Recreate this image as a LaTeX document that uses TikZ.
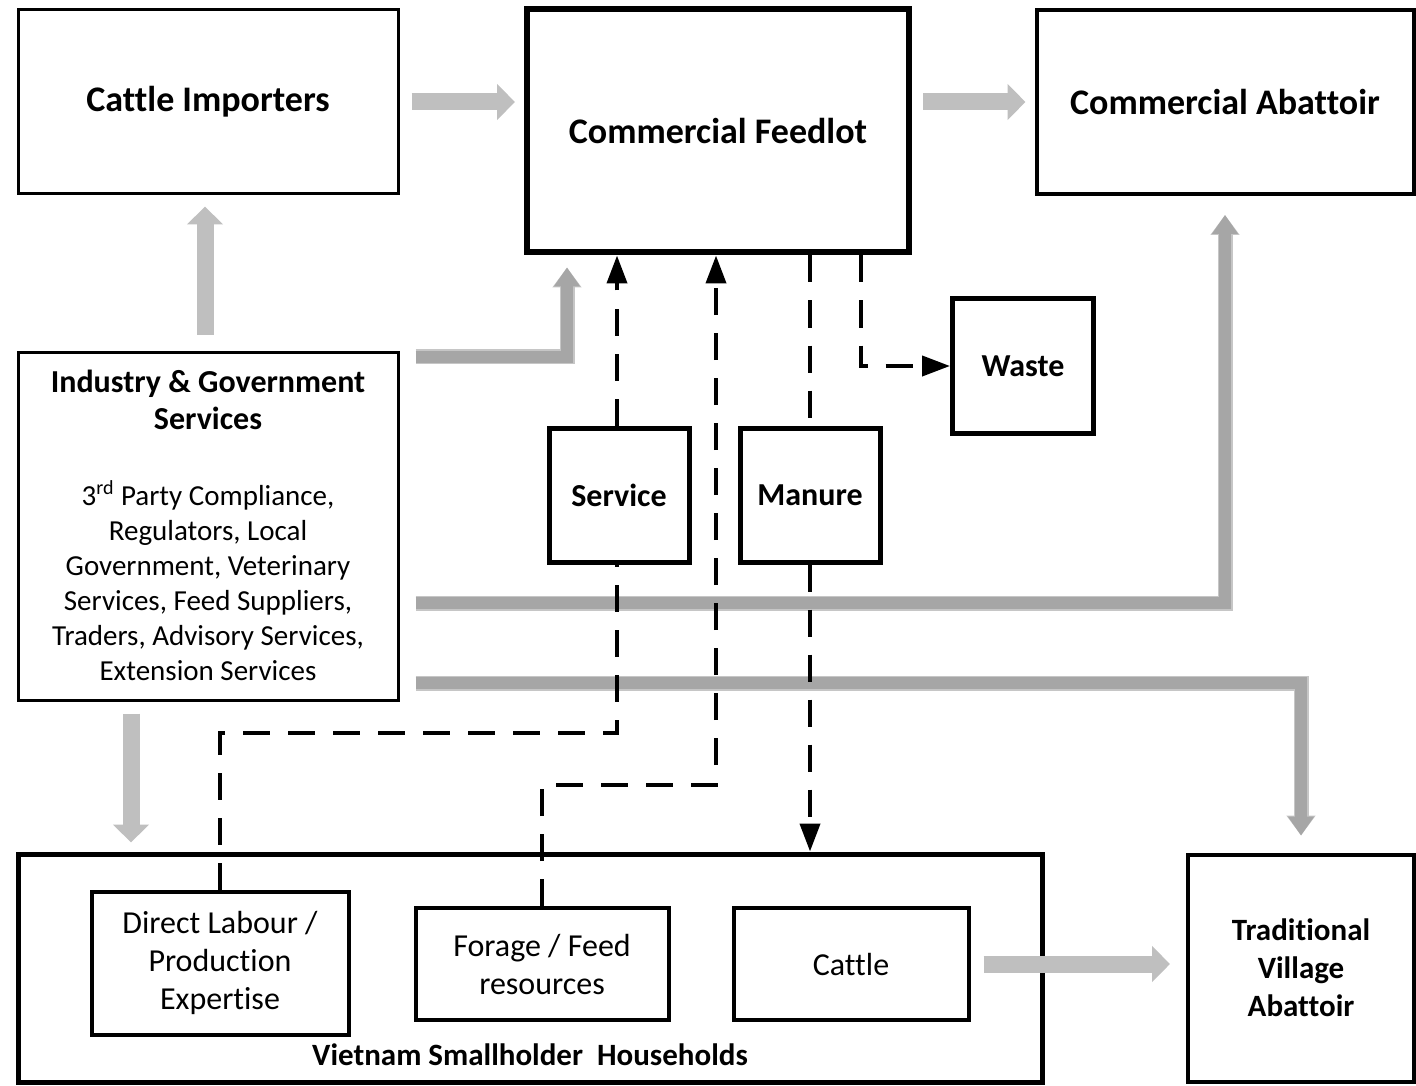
\documentclass[tikz,border=0pt]{standalone}
\usepackage{fontspec}
\setmainfont{Carlito}[Ligatures=NoCommon]
\usepackage{tikz}
\usetikzlibrary{arrows.meta}
\definecolor{lightgrey}{HTML}{BFBFBF}
\definecolor{darkgrey}{HTML}{A6A6A6}
\definecolor{edgegrey}{HTML}{C6C6C6}
\tikzset{
    box/.style={draw, inner sep=0pt, align=center},
    heading/.style={font=\bfseries\fontsize{18}{22}\selectfont},
    label/.style={font=\bfseries\fontsize{16}{19}\selectfont, align=center},
    plain/.style={font=\fontsize{16}{19}\selectfont, align=center},
    lightarrow/.style={draw=lightgrey, line width=8.5pt, -{Triangle[width=17.5pt,length=9pt]}},
    darkarrow/.style={draw=darkgrey, line width=6pt, line join=miter, -{Triangle[width=12.5pt,length=9.5pt]},
            preaction={draw=edgegrey, line width=7.5pt, line join=miter, -{Triangle[width=14pt,length=10pt]}}},
    dashline/.style={draw=black, line width=2pt, dash pattern=on 13.5pt off 9pt},
    dasharrow/.style={dashline, -{Triangle[width=10pt,length=14pt]}}
}
\begin{document}
\begin{tikzpicture}[x=0.5pt, y=-0.5pt]
        \useasboundingbox (0,0) rectangle (1416,1085);
        %top row
        \node[box, line width=1.5pt, minimum width=190pt, minimum height=92pt, heading] (importers) at (208,102) {Cattle Importers};
        \node[box, line width=3pt, minimum width=191pt, minimum height=121.5pt, heading] (feedlot) at (718,131) {Commercial Feedlot};
        \node[box, line width=2pt, minimum width=188.5pt, minimum height=92pt, heading] (abattoir) at (1225,102) {Commercial Abattoir};
        %industry box and its text
        \node[box, line width=1.5pt, minimum width=190pt, minimum height=174pt] (industry) at (208,526) {};
        \node[label, font=\bfseries\fontsize{16}{18.5}\selectfont] (indhead) at (208,400) {Industry \& Government\\Services};
        \node[align=center, font=\fontsize{14.5}{17.5}\selectfont] (indbody) at (208,580.5) {3\textsuperscript{\fontsize{10}{10}\selectfont rd} Party Compliance,\\Regulators, Local\\Government, Veterinary\\Services, Feed Suppliers,\\Traders, Advisory Services,\\Extension Services};
        %middle boxes
        \node[box, line width=2.5pt, minimum width=70.5pt, minimum height=67pt, label] (waste) at (1023,366) {Waste};
        \node[box, line width=2.5pt, minimum width=70pt, minimum height=67pt, label] (service) at (619,495) {Service};
        \node[box, line width=2.5pt, minimum width=70pt, minimum height=67pt, label] (manure) at (810,495) {Manure};
        %smallholder households
        \node[box, line width=2.5pt, minimum width=512pt, minimum height=114pt] (smallholder) at (530,968) {};
        \node[label, font=\bfseries\fontsize{15.5}{18}\selectfont] (hhlabel) at (530,1055) {Vietnam Smallholder\ \ Households};
        \node[box, line width=2pt, minimum width=128.5pt, minimum height=71.5pt, plain] (labour) at (220,963) {Direct Labour /\\Production\\Expertise};
        \node[box, line width=2pt, minimum width=126.5pt, minimum height=56pt, plain] (forage) at (542,964) {Forage / Feed\\resources};
        \node[box, line width=2pt, minimum width=117.5pt, minimum height=56pt, plain] (cattle) at (851,964) {Cattle};
        \node[box, line width=2pt, minimum width=113pt, minimum height=113.5pt, label, font=\bfseries\fontsize{15.5}{19}\selectfont] (traditional) at (1301,968) {Traditional\\Village\\Abattoir};
        %grey flows
        \draw[lightarrow] ([xshift=6pt]importers.east) -- ([xshift=-4.5pt]importers.east -| feedlot.west);
        \draw[lightarrow] ([xshift=5.5pt]abattoir.west -| feedlot.east) -- ([xshift=-4.5pt]abattoir.west);
        \draw[lightarrow] ([xshift=-1.5pt,yshift=8pt]industry.north) -- ([xshift=-1.5pt,yshift=-5.5pt]importers.south);
        \draw[lightarrow] ([xshift=-38.5pt,yshift=-6pt]industry.south) -- ([xshift=-38.5pt,yshift=4.5pt]industry.south |- smallholder.north);
        \draw[lightarrow] ([xshift=6.5pt]cattle.east) -- ([xshift=-8pt]cattle.east -| traditional.west);
        \draw[darkarrow] ([xshift=8pt,yshift=-3pt]industry.north east) -| ([xshift=-75.5pt,yshift=-6pt]feedlot.south);
        \draw[darkarrow] ([xshift=8pt,yshift=-38.5pt]industry.east) -| ([yshift=-9.5pt]abattoir.south);
        \draw[darkarrow] ([xshift=8pt,yshift=-78.5pt]industry.east) -| ([yshift=8.5pt]traditional.north);
        %dashed flows
        \draw[dashline] (labour.north) -- ++(0,-157) -| ([xshift=-1pt]service.south);
        \draw[dasharrow] ([xshift=-1pt]service.north) -- ([xshift=-1pt]service.north |- feedlot.south);
        \draw[dasharrow] (forage.north) -- ++(0,-121) -| ([xshift=-1pt]feedlot.south);
        \draw[dashline] (manure.north |- feedlot.south) -- (manure.north);
        \draw[dasharrow] (manure.south) -- (manure.south |- smallholder.north);
        \draw[dasharrow] ([xshift=71.5pt]feedlot.south) |- (waste.west);
    \end{tikzpicture}
\end{document}
